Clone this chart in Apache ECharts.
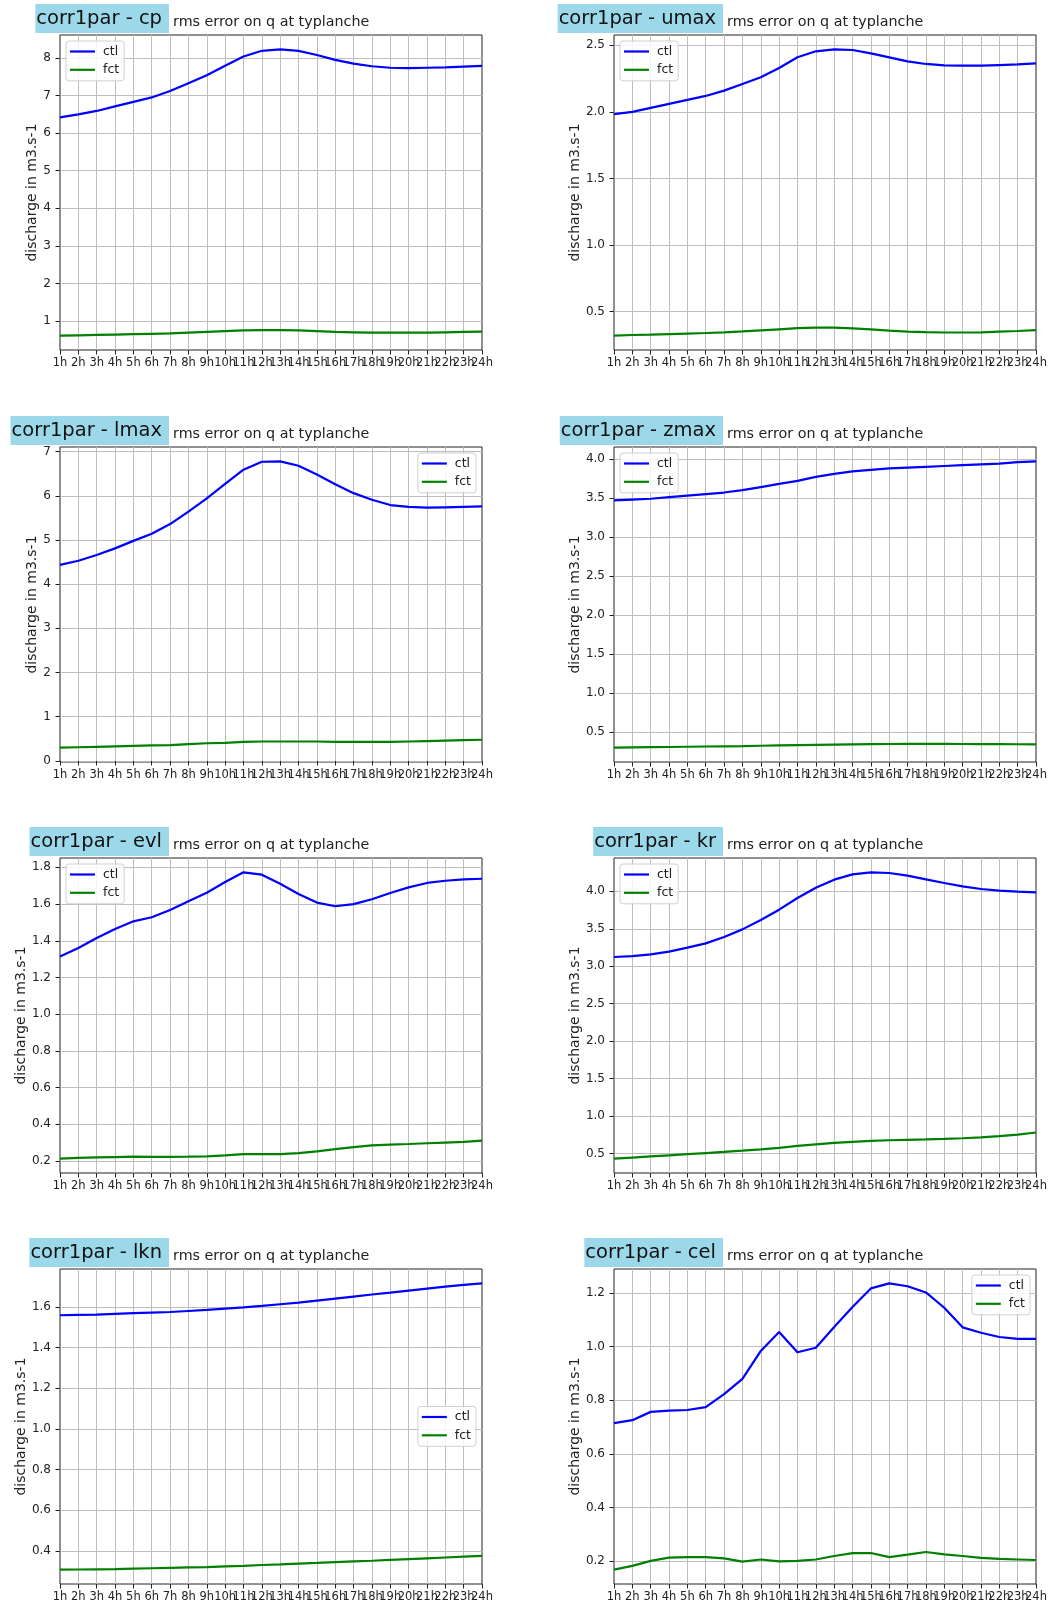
<!DOCTYPE html>
<html>
<head>
<meta charset="utf-8">
<title>corr1par - rms error on q at typlanche</title>
<script src="https://cdn.jsdelivr.net/npm/echarts@6/dist/echarts.min.js"></script>
<style>
  html, body { margin: 0; padding: 0; background: #fff; }
  #chart { width: 1051px; height: 1606px; }
</style>
</head>
<body>
<div id="chart"></div>
<script>
// hours on the x axis
const hours = ['1h','2h','3h','4h','5h','6h','7h','8h','9h','10h','11h','12h',
  '13h','14h','15h','16h','17h','18h','19h','20h','21h','22h','23h','24h'];

// rms error, ctl and fct, per parameter
const cpCtl = [6.42,6.50,6.59,6.71,6.83,6.95,7.12,7.33,7.54,7.79,8.04,8.19,8.23,8.19,8.08,7.95,7.85,7.78,7.74,7.73,7.74,7.75,7.77,7.79];
const cpFct = [0.61,0.62,0.63,0.64,0.65,0.66,0.67,0.69,0.71,0.73,0.75,0.76,0.76,0.75,0.73,0.71,0.70,0.69,0.69,0.69,0.69,0.70,0.71,0.72];

const umaxCtl = [1.984,2.00,2.03,2.06,2.09,2.12,2.16,2.21,2.26,2.33,2.41,2.455,2.47,2.465,2.44,2.41,2.38,2.36,2.35,2.347,2.347,2.352,2.357,2.365];
const umaxFct = [0.320,0.325,0.328,0.332,0.336,0.340,0.345,0.352,0.360,0.368,0.376,0.381,0.380,0.375,0.368,0.358,0.350,0.346,0.344,0.344,0.345,0.350,0.355,0.362];

const lmaxCtl = [4.436,4.53,4.66,4.81,4.98,5.14,5.36,5.64,5.94,6.27,6.59,6.77,6.78,6.68,6.48,6.26,6.06,5.91,5.79,5.75,5.73,5.74,5.75,5.76];
const lmaxFct = [0.30,0.31,0.32,0.33,0.34,0.35,0.36,0.38,0.40,0.41,0.43,0.44,0.44,0.44,0.44,0.43,0.43,0.43,0.43,0.44,0.45,0.46,0.47,0.48];

const zmaxCtl = [3.47,3.48,3.49,3.51,3.53,3.55,3.57,3.60,3.64,3.68,3.72,3.77,3.81,3.84,3.86,3.88,3.89,3.90,3.91,3.92,3.93,3.94,3.96,3.97];
const zmaxFct = [0.300,0.303,0.306,0.309,0.312,0.315,0.318,0.321,0.325,0.329,0.333,0.337,0.340,0.343,0.345,0.347,0.348,0.348,0.348,0.347,0.346,0.345,0.344,0.343];

const evlCtl = [1.314,1.361,1.415,1.464,1.506,1.528,1.568,1.615,1.662,1.720,1.773,1.760,1.711,1.655,1.608,1.588,1.600,1.626,1.660,1.691,1.715,1.727,1.735,1.738];
const evlFct = [0.213,0.217,0.220,0.222,0.224,0.223,0.223,0.224,0.226,0.231,0.238,0.238,0.238,0.243,0.253,0.265,0.276,0.285,0.290,0.293,0.297,0.301,0.305,0.311];

const krCtl = [3.123,3.136,3.158,3.194,3.248,3.305,3.39,3.492,3.617,3.755,3.911,4.049,4.156,4.227,4.254,4.245,4.209,4.16,4.111,4.067,4.031,4.009,3.996,3.987];
const krFct = [0.430,0.445,0.460,0.475,0.490,0.505,0.520,0.537,0.555,0.575,0.600,0.622,0.640,0.655,0.668,0.676,0.682,0.688,0.695,0.703,0.715,0.730,0.752,0.780];

const lknCtl = [1.559,1.561,1.562,1.566,1.569,1.572,1.575,1.580,1.585,1.592,1.598,1.605,1.613,1.621,1.631,1.641,1.651,1.661,1.670,1.680,1.690,1.700,1.708,1.716];
const lknFct = [0.308,0.309,0.310,0.311,0.313,0.315,0.317,0.319,0.321,0.324,0.327,0.331,0.334,0.338,0.341,0.345,0.349,0.352,0.356,0.360,0.364,0.368,0.372,0.376];

const celCtl = [0.715,0.726,0.757,0.762,0.764,0.775,0.823,0.880,0.984,1.055,0.979,0.996,1.073,1.148,1.217,1.236,1.225,1.202,1.145,1.072,1.052,1.036,1.029,1.029];
const celFct = [0.169,0.183,0.202,0.214,0.216,0.216,0.211,0.199,0.207,0.200,0.202,0.207,0.220,0.231,0.231,0.216,0.225,0.235,0.226,0.220,0.213,0.209,0.207,0.205];

// panel list: name, data, y step, label decimals, legend place
const panels = [
  { name: 'cp',   ctl: cpCtl,   fct: cpFct,   step: 1,   dec: 0, leg: 'ul' },
  { name: 'umax', ctl: umaxCtl, fct: umaxFct, step: 0.5, dec: 1, leg: 'ul' },
  { name: 'lmax', ctl: lmaxCtl, fct: lmaxFct, step: 1,   dec: 0, leg: 'ur' },
  { name: 'zmax', ctl: zmaxCtl, fct: zmaxFct, step: 0.5, dec: 1, leg: 'ul' },
  { name: 'evl',  ctl: evlCtl,  fct: evlFct,  step: 0.2, dec: 1, leg: 'ul' },
  { name: 'kr',   ctl: krCtl,   fct: krFct,   step: 0.5, dec: 1, leg: 'ul' },
  { name: 'lkn',  ctl: lknCtl,  fct: lknFct,  step: 0.2, dec: 1, leg: 'cr' },
  { name: 'cel',  ctl: celCtl,  fct: celFct,  step: 0.2, dec: 1, leg: 'ur' }
];

const W = 1051;
const colLeft = [60, 614];
const rowTop = [35, 447, 858, 1269];
const plotW = 422, plotH = 315;
const font = 'DejaVu Sans';

const chart = echarts.init(document.getElementById('chart'));

const grid = [], xAxis = [], yAxis = [], series = [], title = [], legend = [];

panels.forEach((p, i) => {
  const left = colLeft[i % 2];
  const top = rowTop[Math.floor(i / 2)];
  const right = left + plotW;

  // matplotlib-like 5% margins
  const all = p.ctl.concat(p.fct);
  const lo = Math.min(...all), hi = Math.max(...all);
  const pad = (hi - lo) * 0.05;
  const yMin = lo - pad, yMax = hi + pad;

  grid.push({ left: left, top: top, width: plotW, height: plotH,
    show: true, borderColor: '#222', borderWidth: 1, containLabel: false });

  xAxis.push({
    type: 'category', gridIndex: i, data: hours, boundaryGap: false,
    axisLine: { show: false },
    axisTick: { show: true, inside: false, length: 4.5, interval: 0, lineStyle: { color: '#222' } },
    axisLabel: { interval: 0, margin: 7, fontSize: 11.5, color: '#222', fontFamily: font, hideOverlap: false },
    splitLine: { show: true, interval: 0, showMinLine: false, showMaxLine: false,
      lineStyle: { color: '#bdbdbd', width: 1 } }
  });

  yAxis.push({
    type: 'value', gridIndex: i, min: yMin, max: yMax,
    splitNumber: Math.round((yMax - yMin) / p.step),
    name: 'discharge in m3.s-1', nameLocation: 'middle',
    nameGap: p.dec ? 31 : 20,
    nameTextStyle: { fontSize: 14, color: '#222', fontFamily: font },
    axisLine: { show: false },
    axisTick: { show: true, length: 4.5, lineStyle: { color: '#222' } },
    axisLabel: { margin: 9, fontSize: 12, color: '#222', fontFamily: font,
      showMinLabel: false, showMaxLabel: false,
      formatter: v => {
        const k = Math.round(v / p.step);
        if (Math.abs(v - k * p.step) > 1e-6) return '';
        return (k * p.step).toFixed(p.dec);
      } },
    splitLine: { show: true, showMinLine: false, showMaxLine: false,
      lineStyle: { color: '#bdbdbd', width: 1 } }
  });

  series.push({ name: 'ctl', type: 'line', xAxisIndex: i, yAxisIndex: i, data: p.ctl,
    symbol: 'none', color: '#0000ff', lineStyle: { color: '#0000ff', width: 2.2 } });
  series.push({ name: 'fct', type: 'line', xAxisIndex: i, yAxisIndex: i, data: p.fct,
    symbol: 'none', color: '#008000', lineStyle: { color: '#008000', width: 2.2 } });

  // highlighted title and subtitle
  title.push({
    text: 'corr1par - ' + p.name,
    right: W - (i % 2 ? 723 : 169), top: top - 31,
    backgroundColor: '#9bd9ea', padding: [3, 7, 3, 1],
    textStyle: { fontSize: 19.5, fontWeight: 'normal', color: '#111', fontFamily: font, lineHeight: 23 }
  });
  title.push({
    text: 'rms error on q at typlanche',
    left: i % 2 ? 727 : 173, top: top - 21, padding: 0,
    textStyle: { fontSize: 14.3, fontWeight: 'normal', color: '#222', fontFamily: font, lineHeight: 17 }
  });

  const leg = {
    data: ['ctl', 'fct'], orient: 'vertical', icon: 'rect',
    itemWidth: 25, itemHeight: 2.2, itemGap: 4.3,
    padding: [3.5, 5, 4, 4],
    backgroundColor: 'rgba(255,255,255,0.85)', borderColor: '#d0d0d0', borderWidth: 1, borderRadius: 3,
    textStyle: { fontSize: 12.5, color: '#222', fontFamily: font, lineHeight: 14, padding: [0, 0, 0, 3] },
    selectedMode: false
  };
  if (p.leg === 'ul') { leg.left = left + 6; leg.top = top + 6; }
  else if (p.leg === 'ur') { leg.right = W - right + 6; leg.top = top + 6; }
  else { leg.right = W - right + 6; leg.top = top + plotH / 2 - 20; }
  legend.push(leg);
});

const option = {
  animation: false,
  backgroundColor: '#fff',
  textStyle: { fontFamily: font },
  title: title,
  legend: legend,
  grid: grid,
  xAxis: xAxis,
  yAxis: yAxis,
  series: series
};

chart.setOption(option);
</script>
</body>
</html>
